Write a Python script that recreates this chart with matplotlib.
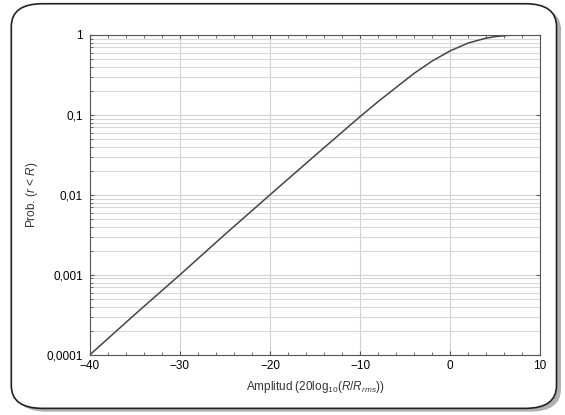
import numpy as np
import matplotlib as mpl
from matplotlib import pyplot as plt
from matplotlib.patches import FancyBboxPatch
from matplotlib.ticker import FixedLocator, LogLocator, MultipleLocator, NullFormatter

# Values
amp_db = [-40, -35, -30, -25, -20, -15, -10, -8, -6, -4, -2, 0, 2, 4, 5, 6, 7, 7.5]
prob = [1.0e-4, 3.2e-4, 1.0e-3, 3.2e-3, 0.01, 0.031, 0.095, 0.146, 0.22, 0.33,
        0.47, 0.63, 0.79, 0.91, 0.95, 0.975, 0.997, 1.0]

y_ticks = [1e-4, 1e-3, 1e-2, 1e-1, 1]
y_labels = ['0,0001', '0,001', '0,01', '0,1', '1']
x_ticks = [-40, -30, -20, -10, 0, 10]

mpl.rc('font', family='Liberation Sans', size=8.5)
mpl.rc('mathtext', fontset='custom', rm='Liberation Sans', it='Liberation Sans:italic')

fig = plt.figure(figsize=(5.65, 4.15), dpi=100)

# rounded frame with shadow
shadow = FancyBboxPatch((0.028, 0.008), 0.965, 0.975, transform=fig.transFigure,
                        boxstyle='round,pad=0,rounding_size=0.055',
                        facecolor='#b0b0b0', edgecolor='none', zorder=-2)
frame = FancyBboxPatch((0.02, 0.016), 0.965, 0.975, transform=fig.transFigure,
                       boxstyle='round,pad=0,rounding_size=0.055',
                       facecolor='white', edgecolor='#222222', lw=1.2, zorder=-1)
fig.patches.extend([shadow, frame])

ax = fig.add_axes([0.159, 0.145, 0.797, 0.771])
ax.plot(amp_db, prob, color='#444444', lw=1.1)

ax.set_yscale('log')
ax.set_xlim(-40, 10)
ax.set_ylim(1e-4, 1)

ax.yaxis.set_major_locator(FixedLocator(y_ticks))
ax.set_yticklabels(y_labels)
ax.yaxis.set_minor_locator(LogLocator(base=10, subs=np.arange(2, 10)))
ax.yaxis.set_minor_formatter(NullFormatter())
ax.xaxis.set_major_locator(FixedLocator(x_ticks))
ax.xaxis.set_minor_locator(MultipleLocator(2))

ax.grid(True, which='major', color='#d0d0d8', lw=0.8)
ax.grid(True, which='minor', axis='y', color='#d8d8d8', lw=0.8)

ax.tick_params(which='both', direction='in', top=True, right=True, color='#555555')
ax.tick_params(which='major', length=3)
ax.tick_params(which='minor', length=2)
ax.tick_params(axis='y', which='minor', right=False)
ax.tick_params(axis='y', pad=5)
ax.tick_params(axis='x', pad=4)

for s in ax.spines.values():
    s.set_color('#555555')
    s.set_linewidth(0.8)

ax.set_ylabel(r'Prob. ($\mathit{r}$ < $\mathit{R}$)', labelpad=5, color='#333333')
ax.set_xlabel(r'Amplitud (20log$_{10}$($\mathit{R/R_{rms}}$))', labelpad=5, color='#333333')

fig.savefig('out.png', dpi=100)
